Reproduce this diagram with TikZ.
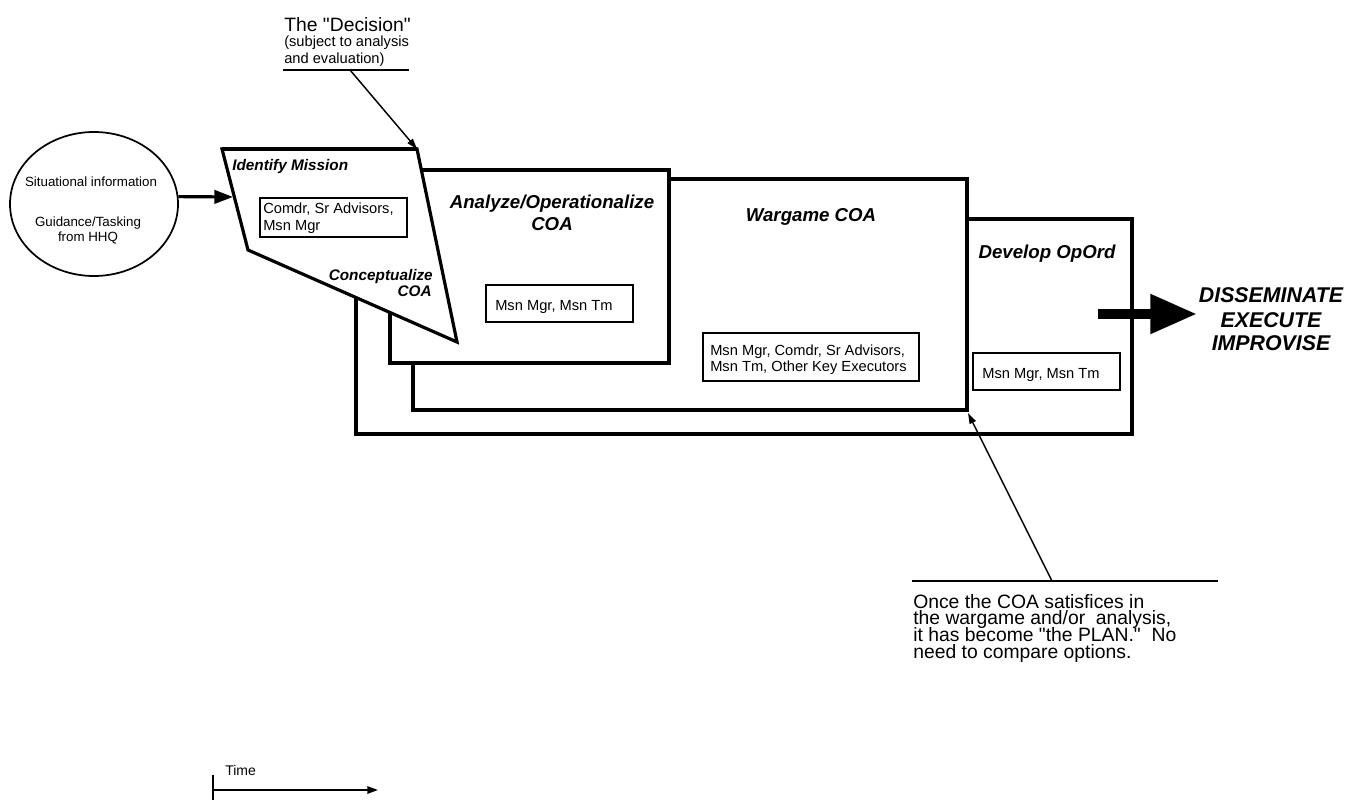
\documentclass[tikz,border=0pt]{standalone}
\usepackage{fontspec}
\setmainfont{Liberation Sans}
\usetikzlibrary{arrows.meta,shapes.geometric}
\newcommand\fsz[2]{\fontsize{#1}{#2}\selectfont}
\newcommand\tightlines{\lineskiplimit=-20pt\relax\lineskip=0pt\relax}
\begin{document}
\begin{tikzpicture}[x=0.75pt,y=-0.75pt,
  panel/.style={draw=black,fill=white,line width=2.4pt,line join=miter},
  smallbox/.style={draw=black,line width=1.4pt},
  title/.style={font=\fsz{14}{16}\bfseries\itshape, inner sep=0pt},
  subtitle/.style={font=\fsz{11.5}{13}\bfseries\itshape, inner sep=0pt},
  lbl/.style={font=\fsz{11}{13}, inner sep=0pt},
  ovl/.style={font=\fsz{10}{12}, inner sep=0pt},
  big/.style={font=\fsz{16}{18}\bfseries\itshape, inner sep=0pt},
  notetxt/.style={font=\fsz{14.5}{12.5}\tightlines, inner sep=0pt, align=left},
  note/.style={draw=black,line width=1.1pt},
  ]
\useasboundingbox (0,0) rectangle (1358,802);
% panels, back to front
\draw[panel] (356,219) rectangle (1132,434);
\draw[panel] (413,179) rectangle (967,410);
\draw[panel] (390,170) rectangle (669,363);
\coordinate (pTL) at (222,149);
\coordinate (pTR) at (417,149);
\coordinate (pTip) at (457,342);
\coordinate (pBL) at (248,250);
\draw[panel] (pTL) -- (pTR) -- (pTip) -- (pBL) -- cycle;
\draw[line width=3.4pt] (pTL) -- (pTR);
\coordinate (wgCorner) at (968,413);

% ellipse
\node[draw=black, line width=1.3pt, ellipse, minimum width=126pt, minimum height=108pt] (sit) at (94,204) {};
\node[ovl, anchor=base] (s1) at (91,187) {Situational information};
\node[ovl, anchor=base] (s2) at (88,227) {Guidance/Tasking};
\node[ovl, anchor=base] (s3) at (88,242) {from HHQ};
\coordinate (pIn) at (233,197);
\draw[line width=2.4pt, -{Triangle[length=14pt,width=10pt]}] (sit.5) -- (pIn);

% Identify Mission
\node[subtitle, anchor=base west] (idm) at (232,171) {Identify Mission};
\draw[smallbox] (260,198) rectangle (407,237);
\node[lbl, anchor=base west] (b1a) at (263,214) {Comdr, Sr Advisors,};
\node[lbl, anchor=base west] (b1b) at (263,230) {Msn Mgr};
\node[subtitle, anchor=base east] (con1) at (433,280) {Conceptualize};
\node[subtitle, anchor=base east] (con2) at (432,296) {COA};

% Analyze
\node[title, anchor=base] (an1) at (552,209) {Analyze/Operationalize};
\node[title, anchor=base] (an2) at (552,230) {COA};
\draw[smallbox] (486,285) rectangle (633,322);
\node[lbl, anchor=base west] (b2) at (495,310) {Msn Mgr, Msn Tm};

% Wargame
\node[title, anchor=base] (wg) at (811,222) {Wargame COA};
\draw[smallbox] (703,333) rectangle (919,381);
\node[lbl, anchor=base west] (b3a) at (710,355) {Msn Mgr, Comdr, Sr Advisors,};
\node[lbl, anchor=base west] (b3b) at (710,371) {Msn Tm, Other Key Executors};

% Develop
\node[title, anchor=base] (dev) at (1047,258) {Develop OpOrd};
\draw[smallbox] (973,353) rectangle (1120,390);
\node[lbl, anchor=base west] (b4) at (982,378) {Msn Mgr, Msn Tm};

% big arrow
\coordinate (bs) at (1098,314);
\coordinate (bt) at (1197,314);
\draw[line width=7.5pt, -{Triangle[length=35pt,width=28pt]}] (bs) -- (bt);
\node[big, anchor=base] (d1) at (1271,302) {DISSEMINATE};
\node[big, anchor=base] (d2) at (1271,327) {EXECUTE};
\node[big, anchor=base] (d3) at (1271,350) {IMPROVISE};

% decision annotation
\node[font=\fsz{14.5}{16}, inner sep=0pt, anchor=base west] (dec1) at (284,32) {The \textquotedbl Decision\textquotedbl};
\node[lbl, anchor=base west] (dec2) at (284,47) {(subject to analysis};
\node[lbl, anchor=base west] (dec3) at (284,64) {and evaluation)};
\coordinate (du1) at (283,70);
\coordinate (du2) at (409,70);
\coordinate (dm) at (350,70);
\draw[note] (du1) -- (du2);
\draw[note, -{Triangle[length=8pt,width=5pt]}] (dm) -- (pTR);

% plan annotation
\coordinate (nu1) at (912,581);
\coordinate (nu2) at (1218,581);
\coordinate (nm) at (1052,581);
\draw[note] (nu1) -- (nu2);
\draw[note, -{Triangle[length=8pt,width=5pt]}] (nm) -- (wgCorner);
\node[notetxt, anchor=north west] (plan) at (913,594) {Once the COA satisfices in\\the wargame and/or\ \ analysis,\\it has become \textquotedbl the PLAN.\textquotedbl\ \ No\\need to compare options.};

% time axis
\coordinate (t0) at (213,775);
\coordinate (t1) at (213,800);
\coordinate (ts) at (213,790);
\coordinate (te) at (378,790);
\draw[line width=1.3pt] (t0) -- (t1);
\draw[line width=1.3pt, -{Triangle[length=8pt,width=5.5pt]}] (ts) -- (te);
\node[font=\fsz{10.5}{12}, inner sep=0pt, anchor=base west] (time) at (225,775) {Time};
\end{tikzpicture}
\end{document}
